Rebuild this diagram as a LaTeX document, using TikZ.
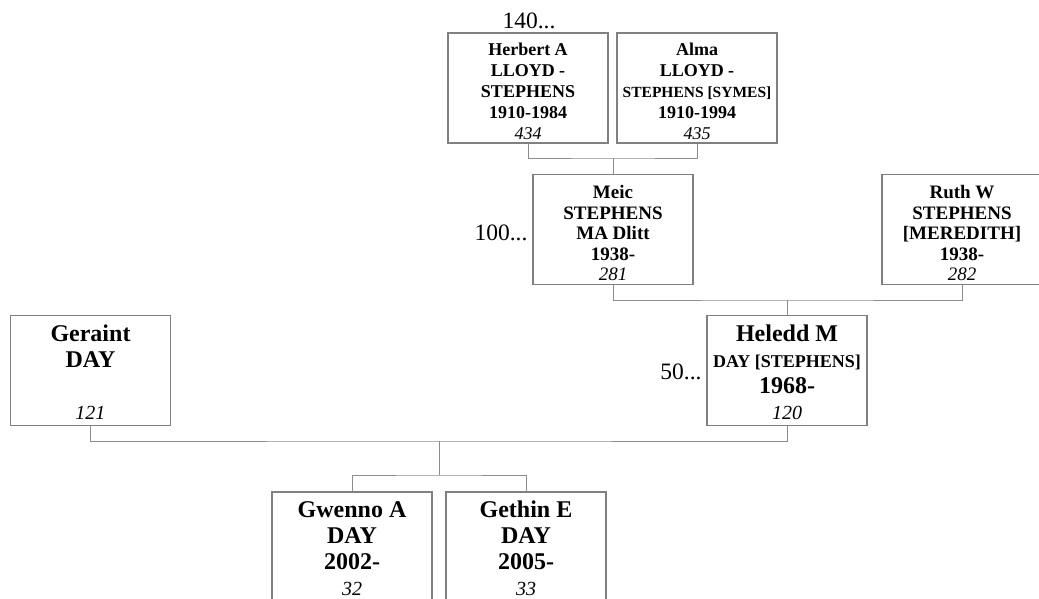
\documentclass[tikz,border=0pt]{standalone}
\usepackage{fontspec}
\setmainfont{Liberation Serif}
\definecolor{boxgray}{RGB}{128,128,128}
\definecolor{linegray}{RGB}{140,140,140}
\newcommand{\fs}[2]{\fontsize{#1}{#2}\selectfont}
\begin{document}
\begin{tikzpicture}[x=1pt,y=-1pt,
  box/.style={draw=boxgray,line width=1.1pt,rectangle,inner sep=0pt,fill=white},
  conn/.style={draw=linegray,line width=1pt},
  gen/.style={inner sep=0pt,font=\fs{23.5}{26}}]
\useasboundingbox (0,0) rectangle (1039,598);
\clip (0,0) rectangle (1039,598);
\fill[white] (0,0) rectangle (1039,598);

% generation labels
\node[gen] (g140) at (529,20.5) {140...};
\node[gen] (g100) at (501,233) {100...};
\node[gen] (g50) at (681,372) {50...};

% boxes
\node[box] (herbert) at (528,88) {\parbox[c][110pt][t]{160pt}{\centering\fs{18}{21}\bfseries
  \rule{0pt}{22pt}Herbert A\\ LLOYD -\\ STEPHENS\\ 1910-1984\\ {\mdseries\itshape 434}}};
\node[box] (alma) at (697,88) {\parbox[c][110pt][t]{160pt}{\centering\fs{18}{21}\bfseries
  \rule{0pt}{22pt}Alma\\ LLOYD -\\ {\fs{15.5}{21}STEPHENS [SYMES]}\\ 1910-1994\\ {\mdseries\itshape 435}}};
\node[box] (meic) at (613,229.5) {\parbox[c][110pt][t]{160pt}{\centering\fs{19}{20.6}\bfseries
  \rule{0pt}{24pt}Meic\\ STEPHENS\\ MA Dlitt\\ 1938-\\ {\mdseries\itshape 281}}};
\node[box] (ruth) at (962,229.5) {\parbox[c][110pt][t]{160pt}{\centering\fs{19}{20.6}\bfseries
  \rule{0pt}{24pt}Ruth W\\ STEPHENS\\{}[MEREDITH]\\ 1938-\\ {\mdseries\itshape 282}}};
\node[box] (geraint) at (90.5,370.5) {\parbox[c][110pt][t]{160pt}{\centering\fs{24}{26}\bfseries
  \rule{0pt}{26pt}Geraint\\ DAY\\[26pt] {\fs{20}{26}\mdseries\itshape 121}}};
\node[box] (heledd) at (787,370.5) {\parbox[c][110pt][t]{160pt}{\centering\fs{24}{26}\bfseries
  \rule{0pt}{26pt}Heledd M\\ {\fs{18}{26}DAY [STEPHENS]}\\ 1968-\\ {\fs{20}{26}\mdseries\itshape 120}}};
\node[box] (gwenno) at (352,547) {\parbox[c][110pt][t]{160pt}{\centering\fs{24}{26}\bfseries
  \rule{0pt}{25pt}Gwenno A\\ DAY\\ 2002-\\ {\fs{20}{26}\mdseries\itshape 32}}};
\node[box] (gethin) at (526,547) {\parbox[c][110pt][t]{160pt}{\centering\fs{24}{26}\bfseries
  \rule{0pt}{25pt}Gethin E\\ DAY\\ 2005-\\ {\fs{20}{26}\mdseries\itshape 33}}};

% connectors
\coordinate (hm) at (613,158);
\draw[conn] (herbert.south) |- (hm) -| (alma.south);
\draw[conn] (hm) -- (meic.north);

\coordinate (mr) at (787,300);
\draw[conn] (meic.south) |- (mr) -| (ruth.south);
\draw[conn] (mr) -- (heledd.north);

\coordinate (gh) at (439,441);
\coordinate (kids) at (439,475);
\draw[conn] (geraint.south) |- (gh) -| (heledd.south);
\draw[conn] (gh) -- (kids);
\draw[conn] (gwenno.north) |- (kids) -| (gethin.north);
\end{tikzpicture}
\end{document}
